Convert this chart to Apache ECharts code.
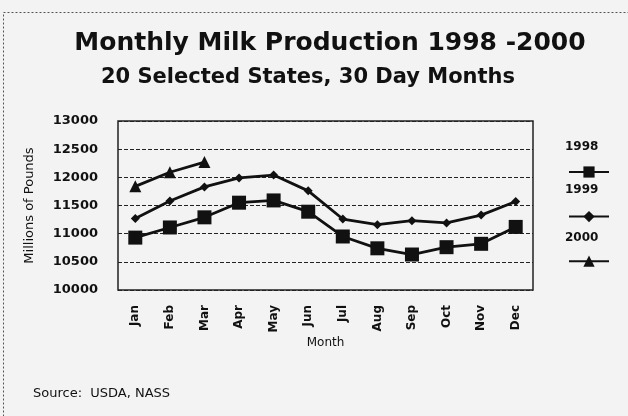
<!DOCTYPE html>
<html>
<head>
<meta charset="utf-8">
<script src="https://cdn.jsdelivr.net/npm/echarts@6/dist/echarts.min.js"></script>
<style>html,body{margin:0;padding:0;background:#f3f3f3;}#c{width:628px;height:416px;}</style>
</head>
<body>
<div id="c"></div>
<script>
var months = ['Jan','Feb','Mar','Apr','May','Jun','Jul','Aug','Sep','Oct','Nov','Dec'];
var yTicks = [10000, 10500, 11000, 11500, 12000, 12500, 13000];
var s1998 = [10930, 11110, 11290, 11550, 11590, 11390, 10950, 10740, 10630, 10760, 10820, 11120];
var s1999 = [11270, 11580, 11830, 11990, 12040, 11760, 11260, 11160, 11230, 11190, 11330, 11570];
var s2000 = [11840, 12090, 12270];
var seriesNames = ['1998', '1999', '2000'];

var chart = echarts.init(document.getElementById('c'));
var font = '"DejaVu Sans", Verdana, sans-serif';
function lineSeries(name, data, symbol, size) {
  return {
    name: name, type: 'line', data: data, symbol: symbol, symbolSize: size,
    lineStyle: {color: '#111', width: 2.8}, itemStyle: {color: '#111'},
    showAllSymbol: true, animation: false
  };
}
chart.setOption({
  backgroundColor: '#f3f3f3',
  animation: false,
  title: [
    {text: 'Monthly Milk Production 1998 -2000', left: 325, top: 26, textAlign: 'center',
     textStyle: {fontFamily: font, fontSize: 25, fontWeight: 'bold', color: '#111'}},
    {text: '20 Selected States, 30 Day Months', left: 303, top: 62, textAlign: 'center',
     textStyle: {fontFamily: font, fontSize: 21, fontWeight: 'bold', color: '#111'}},
    {text: 'Source:  USDA, NASS', left: 28, top: 382,
     textStyle: {fontFamily: font, fontSize: 13, fontWeight: 'normal', color: '#111'}}
  ],
  grid: {left: 118, right: 95, top: 121, bottom: 126, show: true, borderColor: '#222', borderWidth: 1.5, backgroundColor: 'transparent'},
  xAxis: {
    type: 'category', data: months, boundaryGap: true,
    name: 'Month', nameLocation: 'middle', nameGap: 46,
    nameTextStyle: {fontFamily: font, fontSize: 12, color: '#111'},
    axisLine: {show: false}, axisTick: {show: false},
    axisLabel: {rotate: 90, margin: 15, fontFamily: font, fontSize: 12, fontWeight: 'bold', color: '#111'}
  },
  yAxis: {
    type: 'value', min: 10000, max: 13000, interval: 500,
    name: 'Millions of Pounds', nameLocation: 'middle', nameGap: 82, nameRotate: 90,
    nameTextStyle: {fontFamily: font, fontSize: 13, color: '#111'},
    axisLine: {show: false}, axisTick: {show: false},
    axisLabel: {margin: 20, fontFamily: font, fontSize: 13, fontWeight: 'bold', color: '#111',
      formatter: function (v) { return yTicks.indexOf(v) >= 0 ? String(v) : ''; }},
    splitLine: {lineStyle: {color: '#222', type: 'dashed', width: 1}}
  },
  legend: {
    orient: 'vertical', left: 563, top: 160, itemWidth: 40, itemHeight: 14, itemGap: 32,
    data: seriesNames, formatter: function () { return ''; }, selectedMode: false,
    textStyle: {fontSize: 1}
  },
  graphic: [
    {type: 'rect', shape: {x: 3.5, y: 12.5, width: 700, height: 500}, style: {fill: 'none', stroke: '#555', lineWidth: 1, lineDash: [2, 2]}, silent: true},
    {type: 'text', left: 565, top: 141, style: {text: seriesNames[0], font: 'bold 12px ' + font, fill: '#111'}},
    {type: 'text', left: 565, top: 184, style: {text: seriesNames[1], font: 'bold 12px ' + font, fill: '#111'}},
    {type: 'text', left: 565, top: 232, style: {text: seriesNames[2], font: 'bold 12px ' + font, fill: '#111'}}
  ],
  series: [
    lineSeries(seriesNames[0], s1998, 'rect', 14),
    lineSeries(seriesNames[1], s1999, 'diamond', 9),
    lineSeries(seriesNames[2], s2000, 'triangle', 12)
  ]
});
</script>
</body>
</html>
